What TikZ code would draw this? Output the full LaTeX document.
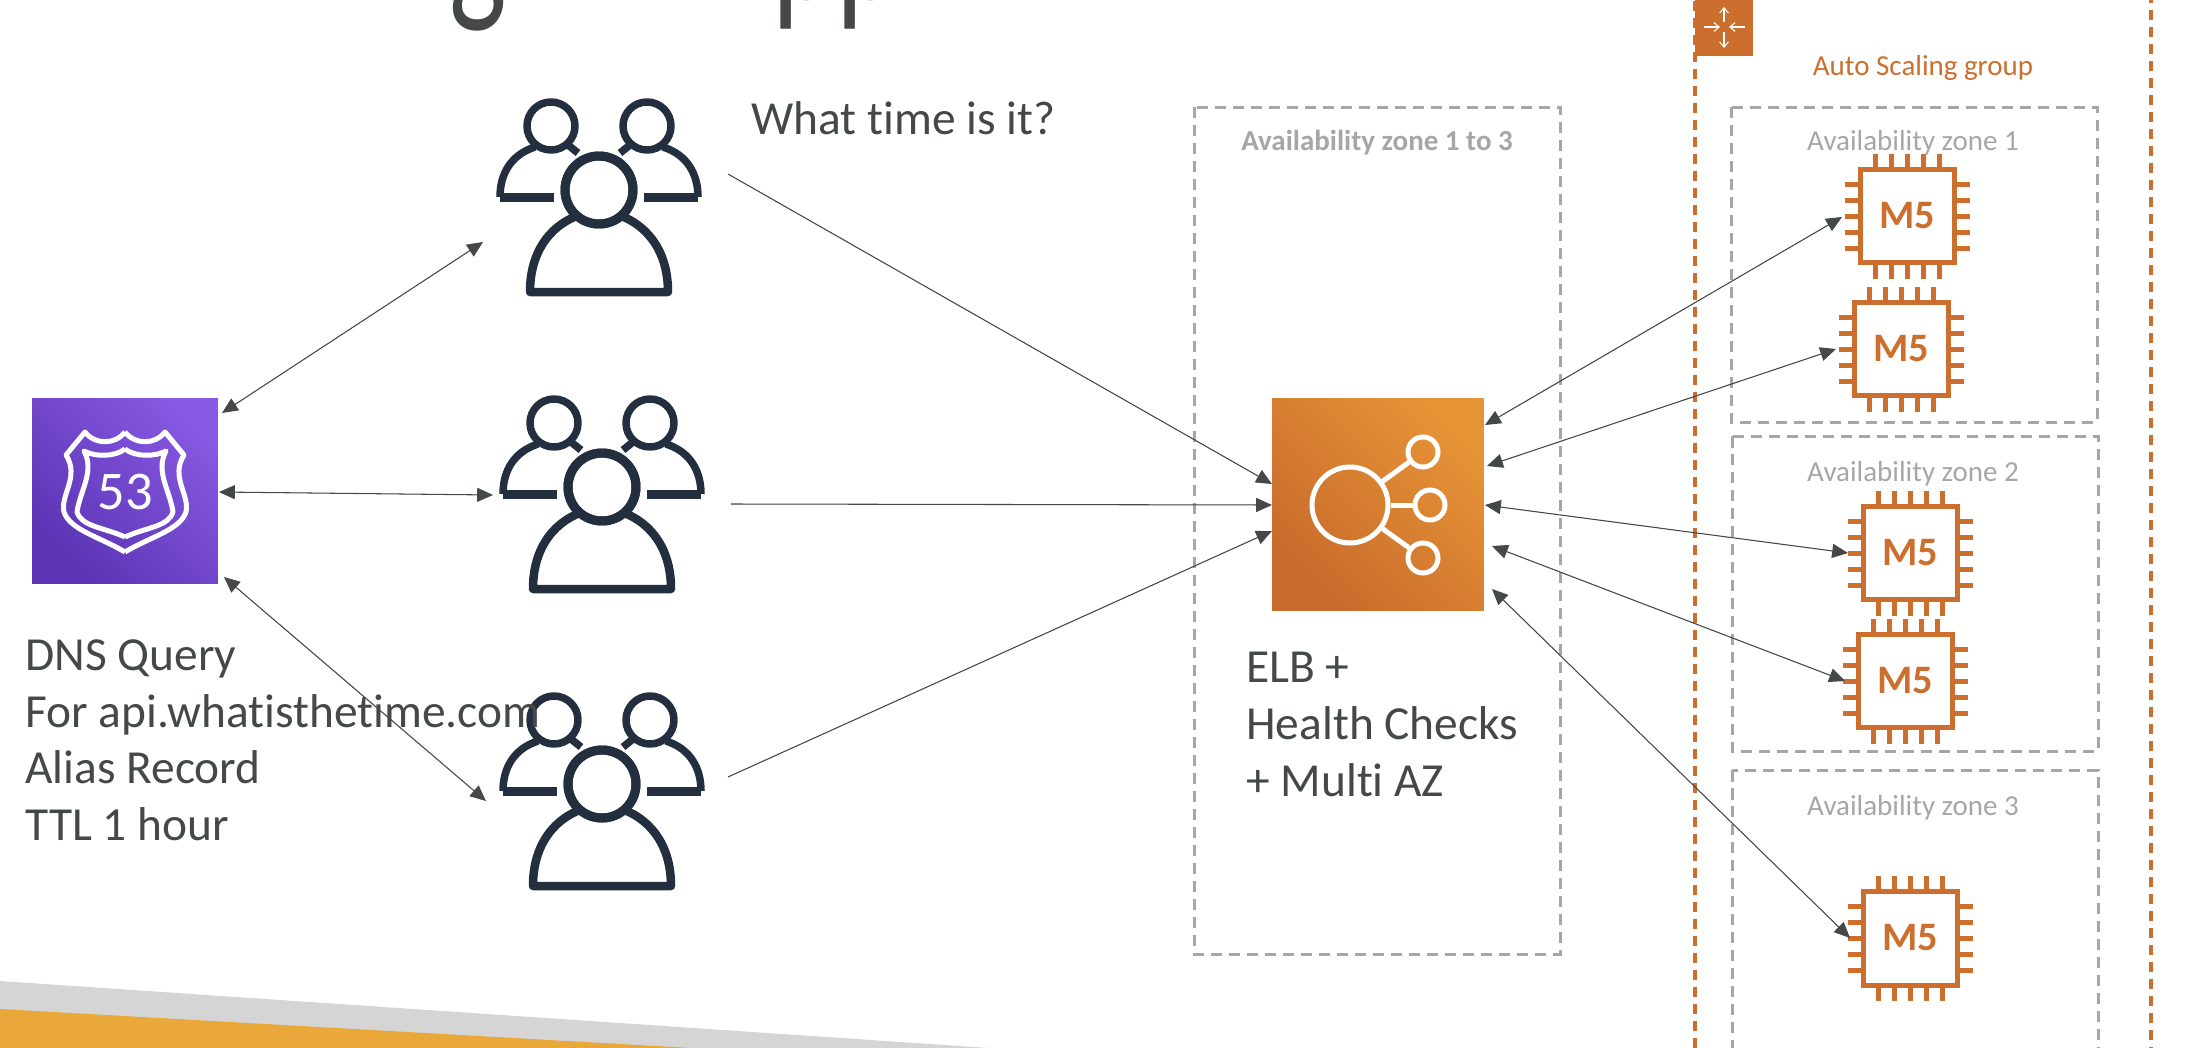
\documentclass[tikz,border=0pt]{standalone}
\usepackage{fontspec}
\setmainfont[Ligatures=NoCommon]{Carlito}
\usepackage{xcolor}
\usepackage{tikz}
\usetikzlibrary{arrows.meta}
\definecolor{inkgray}{RGB}{68,72,72}
\definecolor{zonegray}{RGB}{166,166,166}
\definecolor{awsorange}{RGB}{204,111,46}
\definecolor{crowdnavy}{RGB}{35,47,62}
\definecolor{bandgray}{RGB}{213,213,213}
\definecolor{bandorange}{RGB}{234,167,58}
\definecolor{dnslow}{RGB}{90,52,180}
\definecolor{dnshigh}{RGB}{135,88,225}
\definecolor{elblow}{RGB}{200,106,44}
\definecolor{elbhigh}{RGB}{230,147,54}

\begin{document}
\begin{tikzpicture}[
  x=0.02cm, y=-0.02cm,
  font=\fontsize{27}{32.4}\selectfont,
  tile/.style={rectangle, inner sep=0pt, outer sep=0pt, minimum size=#1},
  bodytext/.style={text=inkgray, align=left, anchor=north west, inner sep=0pt},
  titletext/.style={text=inkgray, inner sep=0pt, xscale=0.66, font=\fontsize{105}{105}\selectfont},
  zonebox/.style={draw=zonegray, line width=0.06cm, dash pattern=on 0.23cm off 0.13cm},
  zonetext/.style={text=zonegray, font=\fontsize{16.5}{16.5}\selectfont, inner sep=0pt},
  groupbox/.style={draw=awsorange, line width=0.065cm, dash pattern=on 0.21cm off 0.13cm},
  chipbox/.style={rectangle, draw=awsorange, line width=0.1cm, inner sep=0pt, outer sep=0pt,
                  minimum size=1.88cm, text=awsorange, font=\fontsize{23}{23}\selectfont\bfseries},
  chippin/.style={draw=awsorange, line width=0.1cm},
  glyph/.style={draw=white, line width=0.1cm},
  arr/.style={-{Triangle[length=9pt,width=8pt]}, draw=inkgray, fill=inkgray, line width=0.6pt},
  biarr/.style={{Triangle[length=9pt,width=8pt]}-{Triangle[length=9pt,width=8pt]},
                draw=inkgray, fill=inkgray, line width=0.6pt},
  crowd/.pic={
    \foreach \s in {1,-1}{
      \begin{scope}[xscale=\s, draw=crowdnavy, line join=round]
        \draw[line width=0.18cm] (0,35) circle[radius=34];
        \draw[line width=0.17cm] (0,137) -- (-69,137) .. controls (-69,100) and (-52,72) .. (-20,60);
        \draw[line width=0.15cm] (-48,-29) circle[radius=24];
        \draw[line width=0.15cm] (-99,42) .. controls (-99,20) and (-89,0) .. (-64,-8);
        \draw[line width=0.18cm] (-99,42) -- (-45,42);
        \draw[line width=0.15cm] (-31,-10) -- (-21,-2);
      \end{scope}
    }
  }
]
\useasboundingbox (0,0) rectangle (2188,1048);
\clip (0,0) rectangle (2188,1048);

%% Bottom bands
\fill[bandgray] (0,981) -- (989,1048) -- (0,1048) -- cycle;
\fill[bandorange] (0,1009) -- (691,1048) -- (0,1048) -- cycle;

%% Title, cut by the top edge
\node[titletext, anchor=base] (titleg) at (478,0) {g};
\node[titletext, anchor=base west] (titlepp) at (772,0) {pp};

%% Zones
\draw[zonebox] (1194,107) rectangle (1560,954);
\draw[groupbox] (1695,-50) rectangle (2151,1100);
\draw[zonebox] (1731,107) rectangle (2097,422);
\draw[zonebox] (1732,436) rectangle (2098,751);
\draw[zonebox] (1732,770) rectangle (2098,1100);
\node[zonetext, font=\fontsize{16.5}{16.5}\selectfont\bfseries] (zoneall) at (1377,143) {Availability zone 1 to 3};
\node[zonetext] (zonea) at (1913,143) {Availability zone 1};
\node[zonetext] (zoneb) at (1913,474) {Availability zone 2};
\node[zonetext] (zonec) at (1913,808) {Availability zone 3};

%% Auto Scaling
\node[tile=1.16cm, fill=awsorange] (asg) at (1724,27) {};
\draw[white, line width=0.6pt, -{Straight Barb[length=3pt,width=5pt]}] (1724,22) -- (1724,7);
\draw[white, line width=0.6pt, -{Straight Barb[length=3pt,width=5pt]}] (1724,32) -- (1724,48);
\draw[white, line width=0.6pt, -{Straight Barb[length=3pt,width=5pt]}] (1704,27) -- (1720,27);
\draw[white, line width=0.6pt, -{Straight Barb[length=3pt,width=5pt]}] (1745,27) -- (1729,27);
\node[text=awsorange, font=\fontsize{16.5}{16.5}\selectfont, inner sep=0pt] (asglabel) at (1923,68) {Auto Scaling group};

%% Route 53
\node[tile=3.72cm, bottom color=dnslow, top color=dnshigh, shading angle=-45] (rfiftythree) at (125,491) {};
\foreach \s in {1,-1}{
  \begin{scope}[shift={(125,491)}, xscale=\s, line join=round]
    \draw[glyph] (0,-59) .. controls (10,-46) and (30,-46) .. (40,-59) -- (59,-36)
      .. controls (45,-14) and (65,4) .. (61,21) .. controls (55,39) and (25,46) .. (0,61);
    \draw[glyph] (0,-42) .. controls (10,-34) and (30,-34) .. (41,-40)
      .. controls (30,-20) and (45,0) .. (48,21) .. controls (43,36) and (22,36) .. (0,46);
  \end{scope}
}
\node[text=white, font=\fontsize{31}{31}\selectfont, inner sep=0pt] (shieldnum) at (125,492) {53};

%% Clients
\foreach \name/\cx/\cy in {usera/599/155, userb/602/452, userc/602/749}{
  \coordinate (\name) at (\cx,\cy);
  \pic at (\name) {crowd};
}

%% ELB
\node[tile=4.24cm, bottom color=elblow, top color=elbhigh, shading angle=-45] (elb) at (1378,504.5) {};
\node[circle, draw=white, line width=0.1cm, minimum size=1.52cm, inner sep=0pt] (elbhub) at (1350,505) {};
\node[circle, draw=white, line width=0.1cm, minimum size=0.6cm, inner sep=0pt] (elbtop) at (1423,452) {};
\node[circle, draw=white, line width=0.1cm, minimum size=0.6cm, inner sep=0pt] (elbmid) at (1430,505) {};
\node[circle, draw=white, line width=0.1cm, minimum size=0.6cm, inner sep=0pt] (elbbot) at (1423,558) {};
\draw[glyph] (elbhub) -- (elbtop);
\draw[glyph] (elbhub) -- (elbmid);
\draw[glyph] (elbhub) -- (elbbot);

%% Instances
\foreach \name/\cx/\cy in {mfa/1907/216, mfb/1901/349, mfc/1910/553, mfd/1905/681, mfe/1910/938}{
  \node[chipbox] (\name) at (\cx,\cy) {M5};
  \foreach \p in {-32,-16,0,16,32}{
    \draw[chippin] ({\cx+\p},{\cy-47}) -- ({\cx+\p},{\cy-62.5});
    \draw[chippin] ({\cx+\p},{\cy+47}) -- ({\cx+\p},{\cy+62.5});
    \draw[chippin] ({\cx-47},{\cy+\p}) -- ({\cx-62.5},{\cy+\p});
    \draw[chippin] ({\cx+47},{\cy+\p}) -- ({\cx+62.5},{\cy+\p});
  }
}

%% Texts
\node[bodytext] (askinglabel) at (751,101) {What time is it?};
\node[bodytext] (dnslabel) at (25,639) {DNS Query\\For api.whatisthetime.com\\Alias Record\\TTL 1 hour};
\node[bodytext] (elblabel) at (1246,652) {ELB +\\Health Checks\\+ Multi AZ};

%% Arrows
\draw[biarr] ([shift={(97,-78)}]rfiftythree.center) -- ([shift={(-116,87)}]usera);
\draw[biarr] ([shift={(94,1)}]rfiftythree.center) -- ([shift={(-109,43)}]userb);
\draw[biarr] ([shift={(99,86)}]rfiftythree.center) -- ([shift={(-116,52)}]userc);
\draw[arr] ([shift={(129,19)}]usera) -- ([shift={(-106,-20.5)}]elb.center);
\draw[arr] ([shift={(129,52)}]userb) -- ([shift={(-106,0.5)}]elb.center);
\draw[arr] ([shift={(126,28)}]userc) -- ([shift={(-106,26.5)}]elb.center);
\draw[biarr] ([shift={(107,-79.5)}]elb.center) -- ([shift={(-65,1)}]mfa.center);
\draw[biarr] ([shift={(109,-38.5)}]elb.center) -- ([shift={(-65,0)}]mfb.center);
\draw[biarr] ([shift={(107,0.5)}]elb.center) -- ([shift={(-62,0)}]mfc.center);
\draw[biarr] ([shift={(114,41.5)}]elb.center) -- ([shift={(-60,0)}]mfd.center);
\draw[biarr] ([shift={(114,84.5)}]elb.center) -- ([shift={(-60,0)}]mfe.center);

\end{tikzpicture}
\end{document}
